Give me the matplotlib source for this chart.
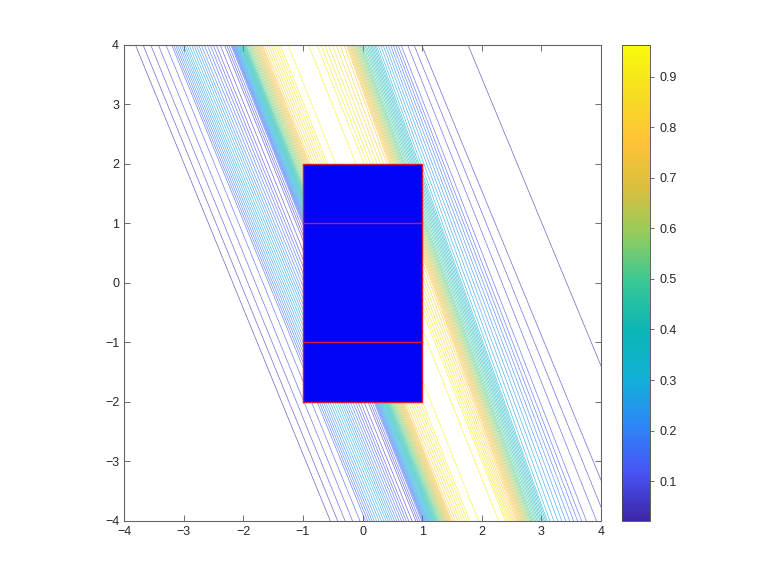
import matplotlib
matplotlib.use("Agg")
import matplotlib.pyplot as plt
import numpy as np
from matplotlib.colors import LinearSegmentedColormap, Normalize
from matplotlib.cm import ScalarMappable

# field value across the slanted wave fronts, with the x position where
# each value sits on the top edge (y=4) and on the bottom edge (y=-4)
front_vals = [0.021, 0.034, 0.13, 0.22, 0.30, 0.20, 0.10, 0.065, 0.14, 0.50,
              0.78, 0.93, 0.963, 0.93, 0.78, 0.50, 0.30, 0.12, 0.06, 0.038, 0.025]
x_top = [-7.6, -3.85, -3.21, -3.06, -2.93, -2.72, -2.46, -2.34, -2.20, -1.95,
         -1.67, -1.37, -1.08, -0.78, -0.28, -0.01, 0.24, 0.63, 0.97, 1.86, 4.6]
x_bot = [-4.4, -0.58, 0.04, 0.21, 0.38, 0.56, 0.77, 0.87, 1.00, 1.27,
         1.50, 1.81, 2.14, 2.39, 2.59, 2.86, 3.11, 3.73, 4.26, 5.17, 7.9]
y_edges = [-4.0, 4.0]

z_min, z_max = 0.021, 0.963
n_levels = 48

# meshed block and its subdomain splits
block_x = [-1.0, 1.0]
block_y = [-2.0, 2.0]
split_y = [-1.0, 1.0]

cbar_ticks = [0.1, 0.2, 0.3, 0.4, 0.5, 0.6, 0.7, 0.8, 0.9]
axis_ticks = [-4, -3, -2, -1, 0, 1, 2, 3, 4]

# parula-like colormap
parula = LinearSegmentedColormap.from_list("parula", [
    (0.2422, 0.1504, 0.6603), (0.2810, 0.3228, 0.9579), (0.1786, 0.5289, 0.9682),
    (0.0689, 0.6948, 0.8394), (0.0400, 0.7100, 0.7100), (0.2161, 0.7843, 0.5923),
    (0.5709, 0.7984, 0.3702), (0.8500, 0.7500, 0.2400), (0.9990, 0.7653, 0.2164),
    (0.9626, 0.8705, 0.1309), (0.9763, 0.9831, 0.0538),
])

plt.rcParams["font.family"] = ["Liberation Sans", "DejaVu Sans"]
plt.rcParams["font.size"] = 9

fig = plt.figure(figsize=(7.78, 5.84), dpi=100)
ax = fig.add_axes([0.1594, 0.1079, 0.6131, 0.8151])
cax = fig.add_axes([0.7995, 0.1079, 0.036, 0.8151])

vals = np.asarray(front_vals)
X = np.vstack([x_bot, x_top])
Y = np.vstack([np.full(len(vals), y_edges[0]), np.full(len(vals), y_edges[1])])
Z = np.vstack([vals, vals])

norm = Normalize(vmin=z_min, vmax=z_max)
levels = np.linspace(z_min, z_max, n_levels + 2)[1:-1]
ax.contour(X, Y, Z, levels=levels, cmap=parula, norm=norm, linewidths=0.5, alpha=0.75)

ax.fill_between(block_x, block_y[0], block_y[1], color="#0303f8", lw=0, zorder=3)
ax.plot([block_x[0], block_x[1], block_x[1], block_x[0], block_x[0]],
        [block_y[0], block_y[0], block_y[1], block_y[1], block_y[0]],
        color="#d8183a", lw=1.0, zorder=4)
for yy in split_y:
    ax.plot(block_x, [yy, yy], color="#d8183a", lw=1.0, zorder=4)

ax.set_xlim(-4, 4)
ax.set_ylim(-4, 4)
ax.set_xticks(axis_ticks)
ax.set_yticks(axis_ticks)
ax.tick_params(direction="in", top=True, right=True, length=4, width=0.6,
               colors="#555555", labelcolor="#262626", labelsize=9)
for sp in ax.spines.values():
    sp.set_color("#666666")
    sp.set_linewidth(0.8)

cb = fig.colorbar(ScalarMappable(norm=norm, cmap=parula), cax=cax)
cb.set_ticks(cbar_ticks)
cb.ax.tick_params(direction="out", length=3, width=0.6, colors="#555555",
                  labelcolor="#262626", labelsize=9)
cb.outline.set_edgecolor("#444444")
cb.outline.set_linewidth(0.6)

fig.savefig("out.png", dpi=100)
